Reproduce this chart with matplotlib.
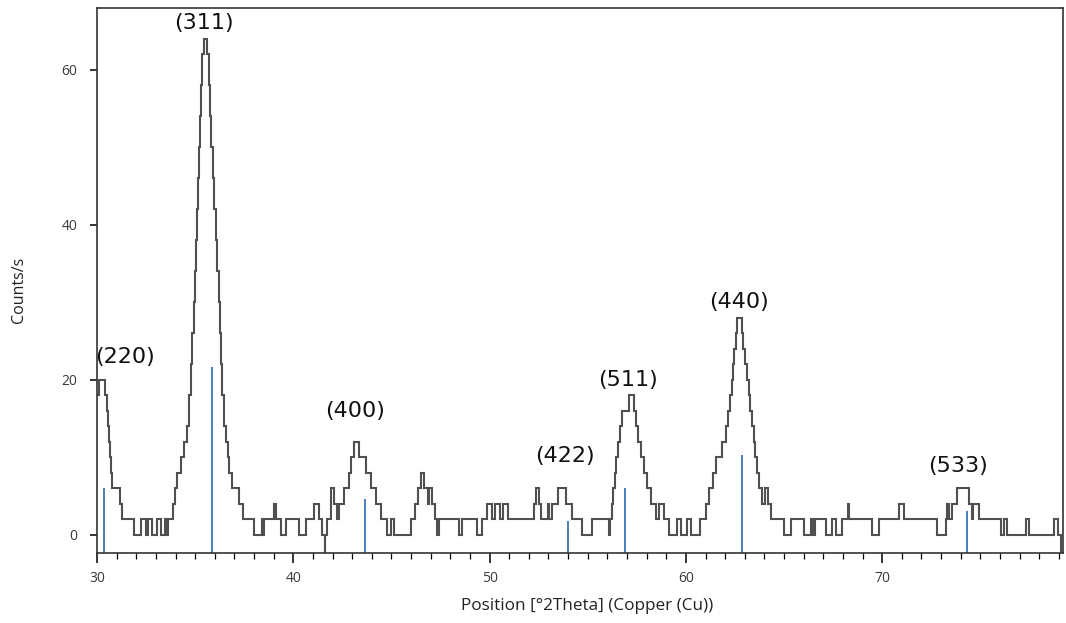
import numpy as np
import matplotlib
matplotlib.use("Agg")
import matplotlib.pyplot as plt
from matplotlib.ticker import MultipleLocator

# XRD scan, stored as step segments: start of each segment [deg 2theta] and its count rate
seg_start = [
    30.00, 30.12, 30.42, 30.50, 30.55, 30.60, 30.66, 30.72, 30.78, 31.17, 31.27,
    31.86, 32.22, 32.48, 32.62, 32.82, 33.08, 33.25, 33.45, 33.58, 33.62,
    33.85, 33.95, 34.10, 34.30, 34.45, 34.60, 34.70, 34.78, 34.86, 34.92, 34.98,
    35.04, 35.10, 35.15, 35.20, 35.25, 35.31, 35.36, 35.45, 35.60, 35.68, 35.75,
    35.82, 35.90, 35.98, 36.06, 36.13, 36.20, 36.26, 36.32, 36.38, 36.45, 36.55,
    36.65, 36.72, 36.90, 37.25, 37.45,
    38.00, 38.42, 38.45, 38.50, 39.00, 39.12, 39.36, 39.61, 40.30, 40.63, 41.05,
    41.31, 41.48, 41.60, 41.64, 41.73, 41.90, 42.07, 42.22, 42.32,
    42.58, 42.84, 42.92, 43.09, 43.35, 43.69, 43.94, 44.20, 44.45, 44.79, 44.96,
    45.13, 46.00, 46.20, 46.35, 46.49, 46.66, 46.88, 46.92, 47.05, 47.20, 47.34,
    47.42, 48.44, 48.61, 49.37, 49.63, 49.88, 50.14, 50.30, 50.55, 50.70, 50.93,
    52.27, 52.35, 52.52, 52.62, 52.98, 53.02, 53.20, 53.50, 53.87, 54.21, 54.72,
    55.23, 56.08, 56.14,
    56.25, 56.30, 56.38, 56.46, 56.55, 56.63, 56.72, 57.10, 57.35, 57.45, 57.58,
    57.70, 57.85, 58.00, 58.20, 58.46, 58.63, 58.88, 59.14, 59.56, 59.73, 60.07,
    60.24, 60.70,
    61.00, 61.20, 61.38, 61.55, 61.85, 62.02, 62.15, 62.25, 62.33, 62.40, 62.47,
    62.55, 62.62, 62.86, 62.93, 63.02, 63.10, 63.20, 63.28, 63.36, 63.45, 63.54,
    63.63, 63.74, 63.90, 64.03, 64.18, 64.35,
    65.00, 65.34, 66.02, 66.36, 66.48, 66.58, 67.12, 67.46, 67.63, 67.97, 68.25,
    68.30, 69.50, 69.84, 70.85, 71.11, 72.80, 73.23, 73.30, 73.38, 73.57, 73.83,
    74.42, 74.55, 74.60, 74.93, 76.03, 76.20, 76.37, 77.30, 77.48, 78.75, 78.95,
    79.13,
]
seg_count = [
    18, 20, 18, 16, 14, 12, 10, 8, 6, 4, 2,
    0, 2, 0, 2, 0, 2, 0, 2, 0, 2,
    4, 6, 8, 10, 12, 14, 18, 22, 26, 30, 34,
    38, 42, 46, 50, 54, 58, 62, 64, 62, 58, 54,
    50, 46, 42, 38, 34, 30, 26, 22, 18, 14, 12,
    10, 8, 6, 4, 2,
    0, 2, 0, 2, 4, 2, 0, 2, 0, 2, 4,
    2, 0, -2.5, 0, 2, 6, 4, 2, 4,
    6, 8, 10, 12, 10, 8, 6, 4, 2, 0, 2,
    0, 2, 4, 6, 8, 6, 4, 6, 4, 2, 0,
    2, 0, 2, 0, 2, 4, 2, 4, 2, 4, 2,
    4, 6, 4, 2, 4, 2, 4, 6, 4, 2, 0,
    2, 0, 2,
    4, 6, 8, 10, 12, 14, 16, 18, 16, 14, 12,
    10, 8, 6, 4, 2, 4, 2, 0, 2, 0, 2,
    0, 2,
    4, 6, 8, 10, 12, 14, 16, 18, 20, 22, 24,
    26, 28, 26, 24, 22, 20, 18, 16, 14, 12, 10,
    8, 6, 4, 6, 4, 2,
    0, 2, 0, 2, 0, 2, 0, 2, 0, 2, 4,
    2, 0, 2, 4, 2, 0, 2, 4, 2, 4, 6,
    4, 2, 4, 2, 0, 2, 0, 2, 0, 2, 0,
    -2.5,
]
scan_end = 79.2

# reference pattern (stick positions and heights)
ref_pos = [30.37, 35.84, 43.63, 53.97, 56.90, 62.88, 74.32]
ref_height = [6.1, 21.7, 4.6, 1.8, 6.0, 10.3, 3.1]

# Miller indices and where their labels sit
hkl_labels = ["(220)", "(311)", "(400)", "(422)", "(511)", "(440)", "(533)"]
hkl_x = [31.45, 35.45, 43.14, 53.84, 57.05, 62.70, 73.86]
hkl_y = [23.0, 66.1, 16.0, 10.2, 20.0, 30.1, 8.9]

y_bottom, y_top = -2.32, 68.0

fig = plt.figure(figsize=(10.66, 6.23), dpi=100)
ax = fig.add_axes([0.091, 0.1124, 0.906, 0.875])

edges = np.array(seg_start + [scan_end])
ax.stairs(seg_count, edges, baseline=None, color="#505050", lw=1.5)

ax.vlines(ref_pos, y_bottom, ref_height, color="#4a7ebb", lw=1.4)

for lab, x, y in zip(hkl_labels, hkl_x, hkl_y):
    ax.text(x, y, lab, ha="center", va="center", fontsize=16,
            family="DejaVu Sans", color="#111111")

ax.set_xlim(30, scan_end)
ax.set_ylim(y_bottom, y_top)
ax.xaxis.set_major_locator(MultipleLocator(10))
ax.xaxis.set_minor_locator(MultipleLocator(1))
ax.set_yticks([0, 20, 40, 60])

ax.tick_params(axis="x", which="major", length=7, width=1.1, pad=6,
               labelsize=10, labelcolor="#3a3a3a")
ax.tick_params(axis="x", which="minor", length=4, width=0.9)
ax.tick_params(axis="y", length=5, width=1.1, pad=9,
               labelsize=10, labelcolor="#3a3a3a")
for lab in ax.get_xticklabels() + ax.get_yticklabels():
    lab.set_family("Open Sans")

for sp in ax.spines.values():
    sp.set_color("#333333")
    sp.set_linewidth(1.2)

ax.set_xlabel("Position [°2Theta] (Copper (Cu))", fontsize=12.3,
              family="Open Sans", color="#222222")
ax.set_ylabel("Counts/s", fontsize=11.5, family="Open Sans", color="#222222")
ax.xaxis.set_label_coords(0.507, -0.083)
ax.yaxis.set_label_coords(-0.073, 0.483)

fig.savefig("out.png", dpi=100)
